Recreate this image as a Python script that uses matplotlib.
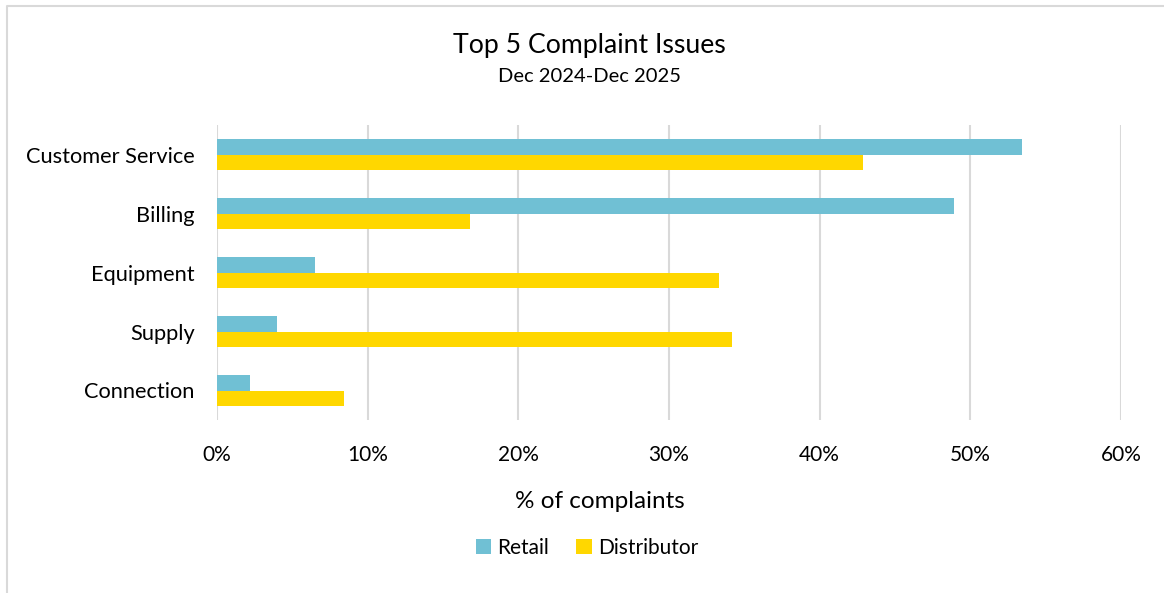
import matplotlib.pyplot as plt
import numpy as np
from matplotlib.lines import Line2D

# data
categories = ['Customer Service', 'Billing', 'Equipment', 'Supply', 'Connection']
retail = [53.4, 48.9, 6.5, 4.0, 2.2]
distributor = [42.9, 16.8, 33.3, 34.2, 8.4]
x_ticks = [0, 10, 20, 30, 40, 50, 60]
x_labels = ['0%', '10%', '20%', '30%', '40%', '50%', '60%']

plt.rcParams['font.family'] = ['Lato', 'DejaVu Sans']

fig = plt.figure(figsize=(11.64, 5.93), dpi=100)
ax = fig.add_axes([217/1164, 1-420/593, (1121-217)/1164, 295/593])

y = np.arange(len(categories))
h = 0.26
ax.barh(y - h/2, retail, height=h, color='#70c0d4', label='Retail', zorder=3)
ax.barh(y + h/2, distributor, height=h, color='#ffd700', label='Distributor', zorder=3)

ax.set_ylim(len(categories)-0.5, -0.5)
ax.set_xlim(0, 60)
ax.set_xticks(x_ticks)
ax.set_xticklabels(x_labels, fontsize=15)
ax.set_yticks(y)
ax.set_yticklabels(categories, fontsize=15.7)
ax.tick_params(length=0, pad=18, axis='x')
ax.tick_params(length=0, pad=16, axis='y')
ax.xaxis.grid(True, color='#d9d9d9', linewidth=1.5, zorder=0)
for s in ax.spines.values():
    s.set_visible(False)

fig.text(600/1164, 1-502/593, '% of complaints', ha='center', va='center', fontsize=17.5)

fig.text(589/1164, 1-46/593, 'Top 5 Complaint Issues', ha='center', va='center', fontsize=19.2)
fig.text(589/1164, 1-77/593, 'Dec 2024-Dec 2025', ha='center', va='center', fontsize=14.5)

fig.legend(loc='center', bbox_to_anchor=(587/1164, 1-548/593), ncol=2, frameon=False,
           fontsize=15, handlelength=0.75, handleheight=0.75, handletextpad=0.3, columnspacing=1.3)

# chart border (top and left edges visible)
fig.add_artist(Line2D([7/1164, 7/1164, 1], [0, 1-6/593, 1-6/593], color='#d9d9d9',
                      linewidth=1.5, transform=fig.transFigure))

fig.savefig('out.png', dpi=100)
